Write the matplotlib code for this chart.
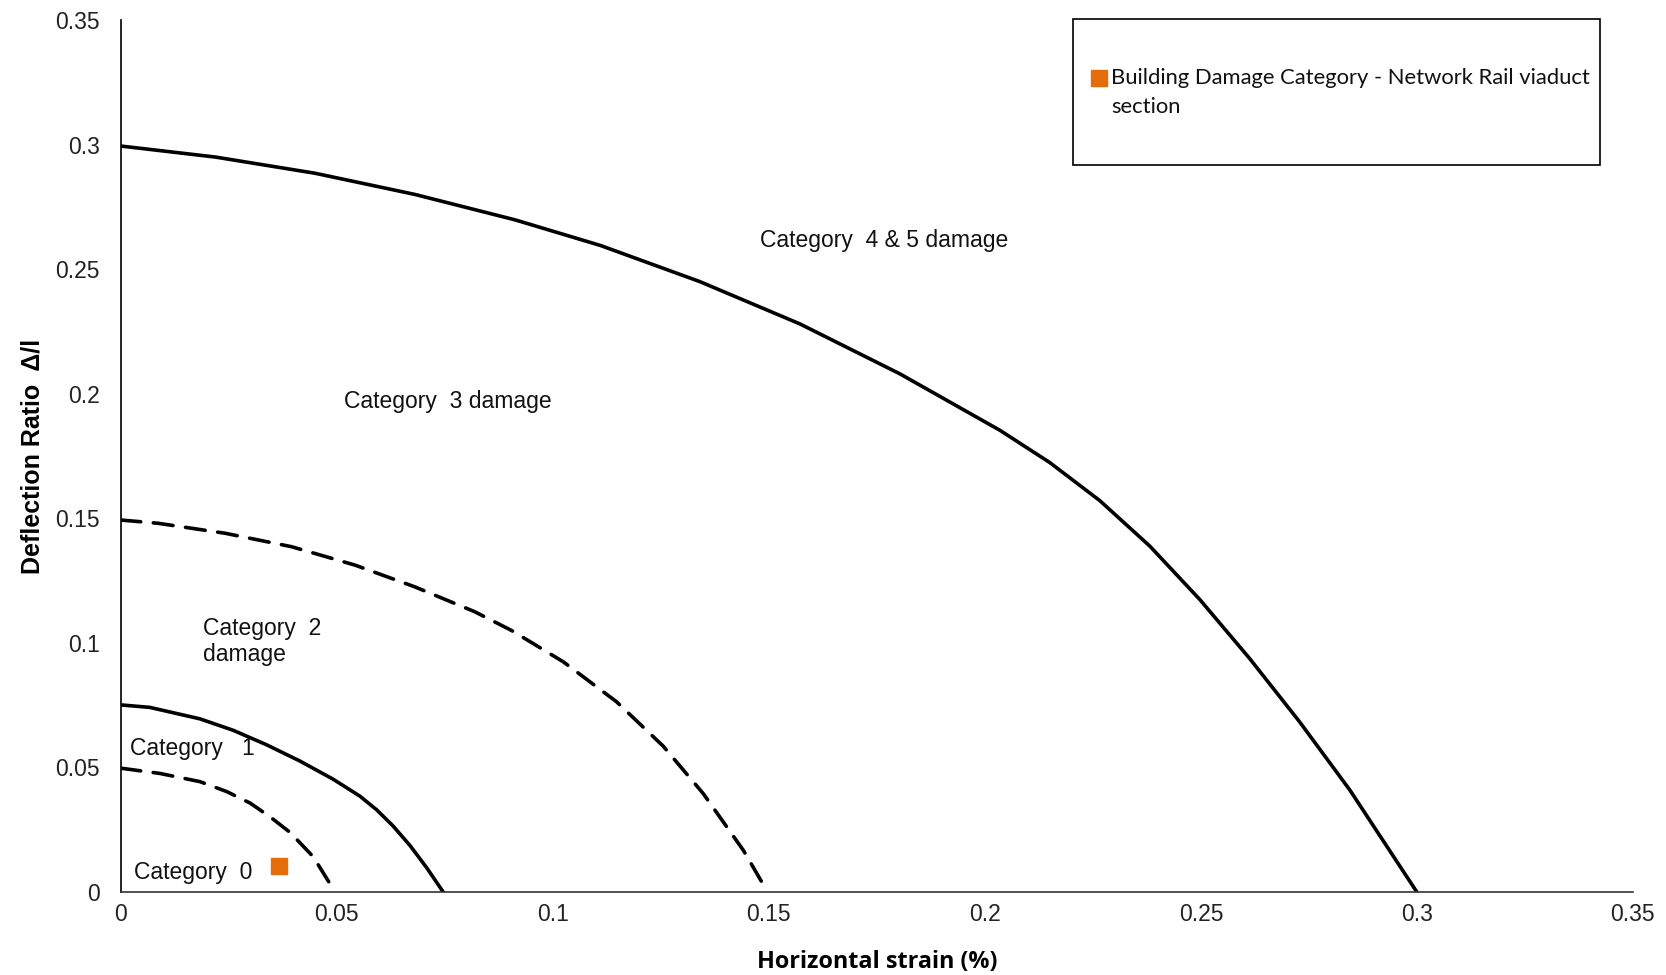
import numpy as np
import matplotlib
matplotlib.use("Agg")
import matplotlib.pyplot as plt
from matplotlib.patches import Rectangle

# damage category boundaries (strain %, deflection ratio)
cat45_x = [0.0, 0.0218, 0.0449, 0.068, 0.0912, 0.111, 0.134, 0.1572, 0.1803, 0.2035,
           0.215, 0.2266, 0.2382, 0.2498, 0.2613, 0.2729, 0.2845, 0.3]
cat45_y = [0.2994, 0.2950, 0.2885, 0.2800, 0.2698, 0.2595, 0.2450, 0.2280, 0.2080, 0.1853,
           0.1724, 0.1571, 0.1388, 0.1173, 0.0937, 0.0682, 0.0409, 0.0]

cat3_x = [0.0, 0.0086, 0.0241, 0.0395, 0.0542, 0.068, 0.0819, 0.0904, 0.1024, 0.1147,
          0.1255, 0.1348, 0.1441, 0.1497]
cat3_y = [0.1493, 0.148, 0.144, 0.1386, 0.1312, 0.1225, 0.1125, 0.105, 0.0924, 0.0764,
          0.0586, 0.0395, 0.0167, 0.0]

cat2_x = [0.0, 0.0067, 0.0183, 0.026, 0.0337, 0.0414, 0.0491, 0.0553, 0.0592, 0.063,
          0.0669, 0.0708, 0.0746]
cat2_y = [0.0751, 0.0741, 0.0695, 0.0649, 0.0591, 0.0526, 0.0453, 0.0385, 0.0330, 0.0265,
          0.0187, 0.0097, 0.0]

cat1_x = [0.0, 0.009, 0.0183, 0.0245, 0.0299, 0.0345, 0.0391, 0.0445, 0.0485]
cat1_y = [0.0497, 0.0476, 0.0443, 0.0403, 0.0357, 0.0302, 0.0240, 0.0142, 0.003]

viaduct_x = [0.0367]
viaduct_y = [0.0104]

ticks = [0, 0.05, 0.1, 0.15, 0.2, 0.25, 0.3, 0.35]
tick_labels = ["0", "0.05", "0.1", "0.15", "0.2", "0.25", "0.3", "0.35"]

ORANGE = "#E46C0A"


def main():
    fig = plt.figure(figsize=(16.66, 9.75), dpi=100)
    ax = fig.add_axes([0.0726, 0.0851, 0.9075, 0.8944])

    lw = 2.6
    ax.plot(cat45_x, cat45_y, color="black", lw=lw, solid_joinstyle="round")
    ax.plot(cat3_x, cat3_y, color="black", lw=lw, dashes=(5.5, 3.5), dash_capstyle="round")
    ax.plot(cat2_x, cat2_y, color="black", lw=lw, solid_joinstyle="round")
    ax.plot(cat1_x, cat1_y, color="black", lw=lw, dashes=(5.5, 3.5), dash_capstyle="round")
    ax.plot(viaduct_x, viaduct_y, ls="none", marker="s", ms=11.5, color=ORANGE, mec=ORANGE)

    ax.set_xlim(0, 0.35)
    ax.set_ylim(0, 0.35)
    ax.set_xticks(ticks)
    ax.set_xticklabels(tick_labels)
    ax.set_yticks(ticks)
    ax.set_yticklabels(tick_labels)
    ax.tick_params(axis="both", length=0, labelsize=16.5, colors="#222222")
    ax.tick_params(axis="x", pad=8)
    ax.tick_params(axis="y", pad=15)
    for lab in ax.get_xticklabels() + ax.get_yticklabels():
        lab.set_family("Liberation Sans")

    ax.spines["top"].set_visible(False)
    ax.spines["right"].set_visible(False)
    ax.spines["left"].set_linewidth(1.2)
    ax.spines["bottom"].set_linewidth(1.2)
    ax.spines["bottom"].set_color("#333333")

    ax.set_xlabel("Horizontal strain (%)", fontsize=16.8, fontweight="bold", family="Open Sans")
    ax.xaxis.set_label_coords(0.5, -0.067)
    ax.set_ylabel("Deflection Ratio  \u0394/l", fontsize=18, fontweight="bold",
                  family="Liberation Sans")
    ax.yaxis.set_label_coords(-0.0505, 0.5)

    txt = dict(fontsize=16.5, family="Liberation Sans", color="#111111", va="center")
    ax.text(0.148, 0.2615, "Category  4 & 5 damage", **txt)
    ax.text(0.0517, 0.197, "Category  3 damage", **txt)
    ax.text(0.019, 0.1006, "Category  2\ndamage", linespacing=1.2, **txt)
    ax.text(0.0022, 0.0578, "Category   1", **txt)
    ax.text(0.003, 0.0077, "Category  0", **txt)

    # legend box (drawn by hand to match the tall Excel frame)
    box = Rectangle((0.630, 0.834), 0.348, 0.167, transform=ax.transAxes,
                    facecolor="white", edgecolor="black", lw=1.2, clip_on=False, zorder=5)
    ax.add_patch(box)
    ax.plot([0.6466], [0.934], transform=ax.transAxes, ls="none", marker="s", ms=11,
            color=ORANGE, mec=ORANGE, clip_on=False, zorder=6)
    ax.text(0.655, 0.917, "Building Damage Category - Network Rail viaduct\nsection",
            transform=ax.transAxes, fontsize=15.8, family="Lato", color="#111111",
            va="center", ha="left", linespacing=1.6, zorder=6)

    fig.savefig("out.png", dpi=100, facecolor="white")


if __name__ == "__main__":
    main()
